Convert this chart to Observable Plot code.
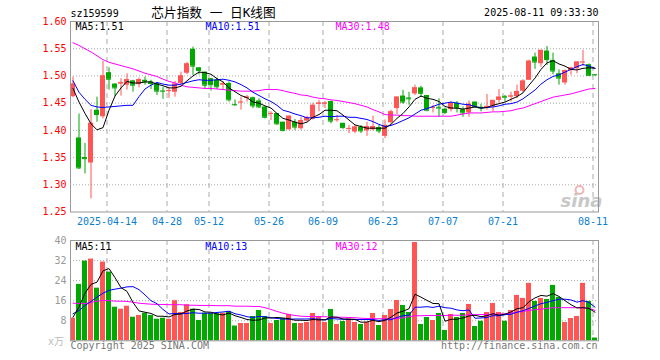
<!DOCTYPE html>
<html><head><meta charset="utf-8">
<script src="https://cdn.jsdelivr.net/npm/d3@7"></script>
<script src="https://cdn.jsdelivr.net/npm/@observablehq/plot@0.6"></script>
<style>
html,body{margin:0;padding:0;background:#fff;}
#wrap{position:relative;width:660px;height:360px;overflow:hidden;background:#fff;}
#wrap svg{position:absolute;left:0;display:block;}
</style></head><body><div id="wrap"></div>
<script>
const dates = [
"2025-04-03","2025-04-07","2025-04-08","2025-04-09","2025-04-10","2025-04-11","2025-04-14","2025-04-15","2025-04-16","2025-04-17",
"2025-04-18","2025-04-21","2025-04-22","2025-04-23","2025-04-24","2025-04-25","2025-04-28","2025-04-29","2025-04-30","2025-05-06",
"2025-05-07","2025-05-08","2025-05-09","2025-05-12","2025-05-13","2025-05-14","2025-05-15","2025-05-16","2025-05-19","2025-05-20",
"2025-05-21","2025-05-22","2025-05-23","2025-05-26","2025-05-27","2025-05-28","2025-05-29","2025-05-30","2025-06-03","2025-06-04",
"2025-06-05","2025-06-06","2025-06-09","2025-06-10","2025-06-11","2025-06-12","2025-06-13","2025-06-16","2025-06-17","2025-06-18",
"2025-06-19","2025-06-20","2025-06-23","2025-06-24","2025-06-25","2025-06-26","2025-06-27","2025-06-30","2025-07-01","2025-07-02",
"2025-07-03","2025-07-04","2025-07-07","2025-07-08","2025-07-09","2025-07-10","2025-07-11","2025-07-14","2025-07-15","2025-07-16",
"2025-07-17","2025-07-18","2025-07-21","2025-07-22","2025-07-23","2025-07-24","2025-07-25","2025-07-28","2025-07-29","2025-07-30",
"2025-07-31","2025-08-01","2025-08-04","2025-08-05","2025-08-06","2025-08-07","2025-08-08","2025-08-11"];

const open = [
1.462,1.386,1.350,1.340,1.437,1.425,1.506,1.485,1.485,1.483,
1.491,1.484,1.492,1.489,1.486,1.4725,1.472,1.470,1.486,1.505,
1.549,1.515,1.507,1.495,1.492,1.483,1.486,1.4475,1.4515,1.4585,
1.460,1.454,1.443,1.430,1.431,1.415,1.401,1.415,1.403,1.417,
1.421,1.448,1.4485,1.453,1.419,1.413,1.403,1.397,1.406,1.399,
1.401,1.405,1.389,1.414,1.440,1.463,1.4595,1.467,1.478,1.464,
1.441,1.4425,1.439,1.438,1.450,1.438,1.432,1.452,1.4425,1.443,
1.444,1.455,1.4625,1.4615,1.462,1.472,1.492,1.5347,1.5224,1.5457,
1.5286,1.504,1.487,1.510,1.5132,1.525,1.5206,1.5025];
const high = [
1.498,1.430,1.376,1.438,1.461,1.527,1.515,1.486,1.495,1.504,
1.492,1.496,1.498,1.492,1.486,1.479,1.479,1.490,1.507,1.525,
1.553,1.515,1.507,1.495,1.496,1.489,1.489,1.456,1.461,1.464,
1.461,1.458,1.443,1.434,1.431,1.415,1.426,1.420,1.424,1.426,
1.450,1.455,1.453,1.454,1.427,1.413,1.409,1.409,1.409,1.415,
1.426,1.409,1.419,1.437,1.461,1.4735,1.470,1.483,1.481,1.464,
1.446,1.458,1.441,1.452,1.453,1.443,1.454,1.452,1.448,1.466,
1.455,1.475,1.464,1.470,1.483,1.493,1.529,1.542,1.547,1.554,
1.542,1.511,1.511,1.516,1.5255,1.547,1.522,1.5025];
const low = [
1.460,1.328,1.320,1.274,1.415,1.421,1.474,1.462,1.463,1.474,
1.470,1.478,1.483,1.475,1.464,1.457,1.459,1.461,1.484,1.502,
1.501,1.502,1.475,1.472,1.475,1.474,1.452,1.444,1.437,1.452,
1.440,1.440,1.421,1.418,1.409,1.397,1.400,1.400,1.400,1.415,
1.419,1.434,1.440,1.412,1.415,1.402,1.394,1.394,1.394,1.389,
1.399,1.394,1.385,1.411,1.429,1.448,1.446,1.464,1.461,1.434,
1.432,1.424,1.429,1.434,1.432,1.424,1.424,1.440,1.434,1.437,
1.434,1.450,1.452,1.452,1.458,1.469,1.492,1.512,1.516,1.519,
1.502,1.483,1.483,1.501,1.504,1.5175,1.4998,1.4995];
const close = [
1.485,1.331,1.348,1.413,1.429,1.500,1.494,1.478,1.488,1.493,
1.483,1.493,1.489,1.486,1.472,1.472,1.473,1.485,1.500,1.522,
1.518,1.510,1.483,1.484,1.480,1.486,1.456,1.447,1.452,1.461,
1.445,1.443,1.424,1.431,1.412,1.400,1.426,1.406,1.418,1.423,
1.446,1.450,1.450,1.417,1.4195,1.405,1.4035,1.406,1.399,1.407,
1.407,1.399,1.409,1.434,1.461,1.452,1.458,1.478,1.468,1.437,
1.442,1.441,1.433,1.450,1.441,1.432,1.448,1.444,1.441,1.444,
1.455,1.461,1.461,1.463,1.4715,1.4905,1.527,1.5255,1.547,1.530,
1.509,1.496,1.510,1.5145,1.5255,1.5255,1.501,1.502];
const volume = [
9.0,22.5,31.8,32.6,21.0,31.4,27.4,13.4,12.6,13.8,
9.4,10.1,11.0,10.1,8.6,9.0,8.6,16.0,11.3,14.4,
12.6,8.1,11.0,10.8,10.8,11.0,11.7,5.9,6.9,6.9,
9.7,12.1,9.7,6.9,8.1,8.8,10.5,6.9,6.9,7.3,
10.9,9.7,7.3,12.5,6.5,7.7,8.8,7.3,6.5,7.3,
10.9,6.1,10.1,12.5,16.1,14.1,11.3,39.2,6.5,9.3,
8.1,10.9,4.1,10.5,9.3,10.9,14.5,5.7,7.8,11.3,
14.9,11.3,7.8,12.1,18.1,16.9,22.9,15.7,16.9,16.5,
22.1,17.3,7.3,8.9,9.7,22.9,15.7,1.1];

const ma5 = [
1.477,1.452,1.431,1.412,1.401,1.405,1.437,1.463,1.478,1.490,
1.487,1.487,1.489,1.489,1.485,1.482,1.478,1.478,1.481,1.491,
1.500,1.507,1.506,1.503,1.495,1.489,1.478,1.471,1.464,1.460,
1.452,1.450,1.445,1.441,1.431,1.422,1.419,1.415,1.412,1.415,
1.424,1.429,1.437,1.437,1.436,1.428,1.419,1.410,1.407,1.404,
1.404,1.404,1.404,1.411,1.422,1.431,1.443,1.457,1.463,1.459,
1.457,1.453,1.444,1.441,1.441,1.439,1.441,1.443,1.441,1.442,
1.446,1.449,1.452,1.457,1.462,1.469,1.483,1.496,1.512,1.524,
1.528,1.522,1.518,1.512,1.511,1.514,1.515,1.514];
const ma10 = [
1.491,1.470,1.457,1.446,1.443,1.442,1.443,1.444,1.445,1.446,
1.446,1.462,1.476,1.483,1.488,1.485,1.483,1.483,1.485,1.488,
1.491,1.493,1.492,1.492,1.493,1.494,1.492,1.489,1.484,1.478,
1.470,1.464,1.458,1.453,1.446,1.437,1.434,1.430,1.427,1.423,
1.423,1.424,1.426,1.425,1.426,1.426,1.424,1.424,1.422,1.420,
1.416,1.411,1.407,1.409,1.413,1.418,1.423,1.430,1.437,1.440,
1.444,1.448,1.450,1.452,1.450,1.448,1.447,1.444,1.441,1.442,
1.443,1.445,1.448,1.449,1.452,1.458,1.466,1.474,1.485,1.493,
1.499,1.502,1.507,1.512,1.517,1.521,1.518,1.514];
const ma30 = [
1.561,1.556,1.550,1.544,1.537,1.530,1.525,1.522,1.519,1.516,
1.513,1.509,1.505,1.502,1.499,1.494,1.490,1.487,1.483,1.480,
1.479,1.478,1.477,1.477,1.476,1.475,1.474,1.473,1.472,1.472,
1.472,1.473,1.475,1.475,1.475,1.473,1.470,1.468,1.465,1.464,
1.461,1.459,1.458,1.456,1.455,1.453,1.451,1.449,1.446,1.443,
1.438,1.434,1.429,1.428,1.428,1.427,1.427,1.426,1.426,1.426,
1.426,1.426,1.426,1.426,1.428,1.430,1.432,1.432,1.432,1.433,
1.434,1.434,1.435,1.436,1.439,1.441,1.445,1.449,1.453,1.457,
1.461,1.463,1.465,1.467,1.470,1.473,1.476,1.477];

const volMa5 = [
9.4,13.5,19.0,22.5,23.4,27.9,28.8,25.2,21.2,19.7,
15.3,11.9,11.4,10.9,9.8,9.8,9.5,10.5,10.7,11.9,
12.6,12.5,11.5,11.4,10.7,10.3,11.1,10.0,9.3,8.5,
8.2,8.3,9.1,9.1,9.3,9.1,8.8,8.2,8.2,8.1,
8.5,8.3,8.4,9.5,9.4,8.7,8.6,8.6,7.4,7.5,
8.2,7.6,8.2,9.4,11.1,11.8,12.8,18.6,17.4,16.1,
14.9,14.8,7.8,8.6,8.6,9.1,9.9,10.2,9.6,10.0,
10.8,10.2,10.6,11.5,12.8,13.2,15.6,17.1,18.1,17.8,
18.8,17.7,16.0,14.4,13.1,13.2,12.9,11.4];
const volMa10 = [
10.8,12.1,14.1,15.7,17.4,19.0,20.1,20.6,21.0,21.5,
21.6,20.4,18.3,16.0,14.8,12.5,10.7,10.9,10.8,10.9,
11.2,11.0,11.0,11.0,11.3,11.5,11.8,10.8,10.3,9.6,
9.3,9.7,9.6,9.2,8.9,8.7,8.6,8.7,8.7,8.7,
8.8,8.6,8.3,8.9,8.7,8.6,8.5,8.5,8.5,8.5,
8.5,8.1,8.4,8.4,9.3,10.0,10.2,13.4,13.4,13.6,
13.3,13.8,13.2,13.0,12.3,12.0,12.3,9.0,9.1,9.3,
10.0,10.0,10.4,10.6,11.4,12.0,12.9,13.9,14.8,15.3,
16.0,16.6,16.6,16.3,15.4,16.0,15.3,13.4];
const volMa30 = [
15.0,14.9,14.8,15.3,15.8,16.1,16.0,15.8,15.8,15.7,
15.4,15.0,14.8,14.6,14.5,14.5,14.4,14.4,14.4,14.2,
14.2,14.1,14.1,14.1,14.0,14.0,14.0,13.8,13.8,13.8,
13.7,13.7,13.2,12.5,11.7,11.0,10.5,10.1,9.8,9.7,
9.7,9.6,9.6,9.4,9.4,9.4,9.3,9.2,9.0,8.9,
8.8,8.8,8.8,8.8,8.9,9.2,9.6,10.0,10.0,10.1,
10.1,10.1,10.1,10.2,10.2,10.2,10.4,10.4,10.5,10.5,
10.6,10.6,10.8,11.0,11.4,11.7,12.1,12.4,12.6,12.9,
13.2,13.2,13.2,13.2,13.2,13.2,13.0,12.1];

const tickDates = ["2025-04-14","2025-04-28","2025-05-12","2025-05-26","2025-06-09","2025-06-23","2025-07-07","2025-07-21","2025-08-11"];
const tickLabels = ["2025-04-14","04-28","05-12","05-26","06-09","06-23","07-07","07-21","08-11"];
const priceTicks = [1.25,1.30,1.35,1.40,1.45,1.50,1.55,1.60];
const volTicks = [8,16,24,32,40];

const UP = "#ff5555", DOWN = "#00a800";
const GRID = "#aaaaaa";
const MONO = "'DejaVu Sans Mono', 'Liberation Mono', monospace";

const rows = dates.map((d, i) => ({
  i, date: d, open: open[i], high: high[i], low: low[i], close: close[i], vol: volume[i],
  ma5: ma5[i], ma10: ma10[i], ma30: ma30[i],
  vma5: volMa5[i], vma10: volMa10[i], vma30: volMa30[i],
  col: close[i] >= open[i] ? UP : DOWN
}));
const tickRows = tickDates.map((d, k) => ({x: dates.indexOf(d) - 1/3, label: tickLabels[k]}));
const HW = 5/12;
const xScale = {type: "linear", domain: [-5/12, dates.length - 1 + 7/12], axis: null};
const baseStyle = {background: "transparent", fontFamily: MONO, fontSize: "10px", overflow: "visible"};
const last = a => a[a.length - 1];
const T = (txt, opts) => Plot.text([txt], {lineAnchor: "middle", ...opts});

const topPlot = Plot.plot({
  width: 660, height: 232, marginLeft: 70, marginRight: 62, marginTop: 21, marginBottom: 20.5,
  style: baseStyle,
  x: xScale,
  y: {domain: [1.25, 1.60], axis: null},
  color: {type: "identity"},
  marks: [
    Plot.ruleY(priceTicks.slice(1, -1), {stroke: GRID, strokeDasharray: "1,2"}),
    Plot.ruleX(tickRows, {x: "x", stroke: GRID, strokeDasharray: "5,4"}),
    Plot.dot([0], {frameAnchor: "bottom-right", dx: -19, dy: -22, r: 4, stroke: "#f2b4b4", strokeWidth: 2, fill: "none"}),
    T("sina", {frameAnchor: "bottom-right", dx: -17, dy: -10.5, textAnchor: "middle",
      fontSize: 18, fontWeight: "bold", fontStyle: "italic", fill: "#c8c8c8", fontFamily: "'DejaVu Sans', sans-serif"}),
    Plot.ruleX(rows, {x: "i", y1: "low", y2: "high", stroke: "col"}),
    Plot.rect(rows, {x1: d => d.i - HW, x2: d => d.i + HW, y1: "open", y2: "close", fill: "col"}),
    Plot.ruleY(rows, {x1: d => d.i - HW, x2: d => d.i + HW, y: "close", stroke: "col"}),
    Plot.line(rows, {x: "i", y: "ma30", stroke: "#ff00ff", strokeWidth: 1}),
    Plot.line(rows, {x: "i", y: "ma10", stroke: "#0000ff", strokeWidth: 1}),
    Plot.line(rows, {x: "i", y: "ma5", stroke: "#000000", strokeWidth: 1}),
    Plot.frame({stroke: "#999"}),
    Plot.axisY({ticks: priceTicks, tickSize: 0, tickPadding: 4, tickFormat: d => d.toFixed(2), color: "#ff0000", label: null}),
    Plot.text(tickRows, {x: "x", text: "label", frameAnchor: "bottom", lineAnchor: "middle", dy: 10, fill: "#0a80cc"}),
    T(`MA5:${last(ma5).toFixed(2)}`, {frameAnchor: "top-left", dx: 5, dy: 5, textAnchor: "start", fill: "#000"}),
    T(`MA10:${last(ma10).toFixed(2)}`, {frameAnchor: "top-left", dx: 135, dy: 5, textAnchor: "start", fill: "#0000ff"}),
    T(`MA30:${last(ma30).toFixed(2)}`, {frameAnchor: "top-left", dx: 265, dy: 5, textAnchor: "start", fill: "#ff00ff"}),
    T("sz159599", {frameAnchor: "top-left", dy: -7.5, textAnchor: "start", fill: "#000"}),
    T("芯片指数 一 日K线图", {frameAnchor: "top-left", dx: 143, dy: -8.8, textAnchor: "middle", fill: "#000",
      fontSize: 12.7, fontFamily: "'DejaVu Sans Mono', 'Noto Sans CJK SC', monospace"}),
    T("2025-08-11 09:33:30", {frameAnchor: "top-right", dy: -8.5, textAnchor: "end", fill: "#000"})
  ]
});

const volPlot = Plot.plot({
  width: 660, height: 128, marginLeft: 70, marginRight: 62, marginTop: 8, marginBottom: 19.7,
  style: baseStyle,
  x: xScale,
  y: {domain: [0, 40], axis: null},
  color: {type: "identity"},
  marks: [
    Plot.ruleY(volTicks.slice(0, -1), {stroke: GRID, strokeDasharray: "1,2"}),
    Plot.ruleX(tickRows, {x: "x", stroke: GRID, strokeDasharray: "5,4"}),
    Plot.rect(rows, {x1: d => d.i - HW, x2: d => d.i + HW, y1: 0, y2: "vol", fill: "col"}),
    Plot.line(rows, {x: "i", y: "vma30", stroke: "#ff00ff", strokeWidth: 1}),
    Plot.line(rows, {x: "i", y: "vma10", stroke: "#0000ff", strokeWidth: 1}),
    Plot.line(rows, {x: "i", y: "vma5", stroke: "#000000", strokeWidth: 1}),
    Plot.frame({stroke: "#999"}),
    Plot.axisY({ticks: volTicks, tickSize: 0, tickPadding: 4, color: "#999", label: null}),
    T("x万", {frameAnchor: "bottom-left", dx: -6.5, dy: 1.4, textAnchor: "end", fill: "#bbb",
      fontFamily: "'DejaVu Sans Mono', 'Noto Sans CJK SC', monospace"}),
    T("Copyright 2025 SINA.COM", {frameAnchor: "bottom-left", dy: 5.3, textAnchor: "start", fill: "#777"}),
    T("http://finance.sina.com.cn", {frameAnchor: "bottom-right", dx: -1, dy: 5.3, textAnchor: "end", fill: "#777"}),
    T(`MA5:${Math.round(last(volMa5))}`, {frameAnchor: "top-left", dx: 5, dy: 6, textAnchor: "start", fill: "#000"}),
    T(`MA10:${Math.round(last(volMa10))}`, {frameAnchor: "top-left", dx: 134.7, dy: 6, textAnchor: "start", fill: "#0000ff"}),
    T(`MA30:${Math.round(last(volMa30))}`, {frameAnchor: "top-left", dx: 265, dy: 6, textAnchor: "start", fill: "#ff00ff"})
  ]
});

const wrap = document.getElementById("wrap");
topPlot.style.top = "0px";
volPlot.style.top = "232px";
wrap.appendChild(topPlot);
wrap.appendChild(volPlot);
</script>
</body></html>
